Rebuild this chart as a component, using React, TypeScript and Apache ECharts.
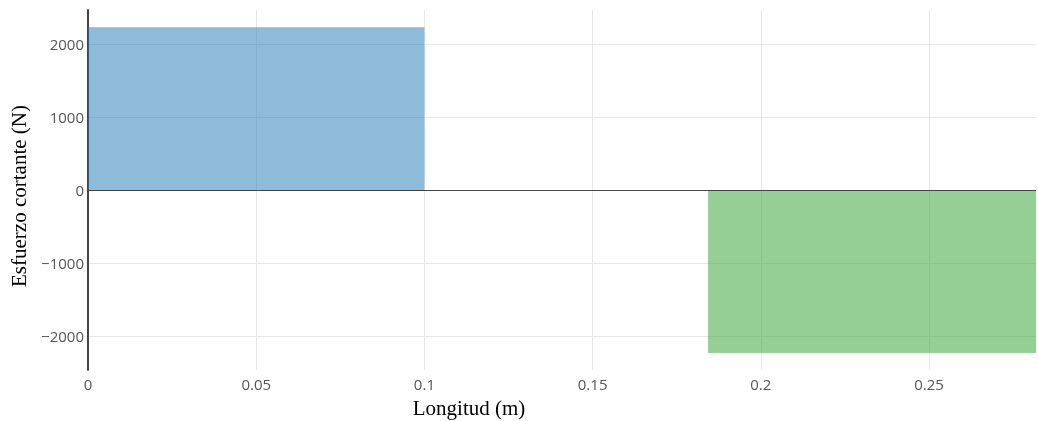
import React, { useEffect, useRef } from "react";
import * as echarts from "echarts";

const X_MIN = 0;
const X_MAX = 0.2818;
const Y_MIN = -2466;
const Y_MAX = 2466;
const positiveShear: [number, number][] = [
  [0, 2225],
  [0.1, 2225],
];
const negativeShear: [number, number][] = [
  [0.1843, -2230],
  [0.2818, -2230],
];
const xTitle = "Longitud (m)";
const yTitle = "Esfuerzo cortante (N)";

export default function App() {
  const ref = useRef<HTMLDivElement>(null);
  useEffect(() => {
    const chart = echarts.init(ref.current!, null, { renderer: "svg" });
    const tickFont = { color: "#555", fontSize: 15, fontFamily: "'Open Sans', Verdana, Arial, sans-serif" };
    const titleFont = "21px 'Liberation Serif', 'Times New Roman', serif";
    chart.setOption({
      animation: false,
      grid: { left: 88, right: 2, top: 10, bottom: 51, containLabel: false },
      xAxis: {
        type: "value",
        min: X_MIN,
        max: X_MAX,
        minInterval: 0.05,
        maxInterval: 0.05,
        axisLine: { show: false },
        axisTick: { show: false },
        axisLabel: {
          ...tickFont,
          margin: 6,
          showMinLabel: true,
          showMaxLabel: false,
          formatter: (v: number) => String(+v.toFixed(4)),
        },
        splitLine: { show: true, showMaxLine: false, showMinLine: false, lineStyle: { color: "#e8e8e8", width: 1 } },
      },
      yAxis: {
        type: "value",
        min: Y_MIN,
        max: Y_MAX,
        minInterval: 1000,
        maxInterval: 1000,
        axisLine: { show: true, onZero: false, lineStyle: { color: "#444", width: 2 } },
        axisTick: { show: false },
        axisLabel: {
          ...tickFont,
          margin: 4,
          showMinLabel: false,
          showMaxLabel: false,
          formatter: (v: number) => String(v).replace("-", "\u2212"),
        },
        splitLine: { show: true, showMaxLine: false, showMinLine: false, lineStyle: { color: "#e8e8e8", width: 1 } },
      },
      graphic: [
        {
          type: "text",
          x: 469,
          y: 408,
          style: {
            text: xTitle,
            font: titleFont,
            fill: "#000",
            align: "center",
            verticalAlign: "middle",
          },
        },
        {
          type: "text",
          x: 19,
          y: 196,
          rotation: Math.PI / 2,
          style: {
            text: yTitle,
            font: titleFont,
            fill: "#000",
            align: "center",
            verticalAlign: "middle",
          },
        },
      ],
      series: [
        {
          type: "line",
          data: positiveShear,
          symbol: "none",
          lineStyle: { width: 1, color: "rgba(31,119,180,0.2)" },
          areaStyle: { color: "rgba(31,119,180,0.5)", opacity: 1, origin: 0 },
          z: 2,
          markLine: {
            silent: true,
            symbol: "none",
            label: { show: false },
            lineStyle: { color: "#444", width: 1, type: "solid" },
            data: [{ yAxis: 0 }],
          },
        },
        {
          type: "line",
          data: negativeShear,
          symbol: "none",
          lineStyle: { width: 1, color: "rgba(44,160,44,0.2)" },
          areaStyle: { color: "rgba(44,160,44,0.5)", opacity: 1, origin: 0 },
          z: 2,
        },
      ],
    });
    return () => chart.dispose();
  }, []);
  return (
    <div
      ref={ref}
      style={{ position: "fixed", left: 0, top: 0, width: 1038, height: 421 }}
    />
  );
}
